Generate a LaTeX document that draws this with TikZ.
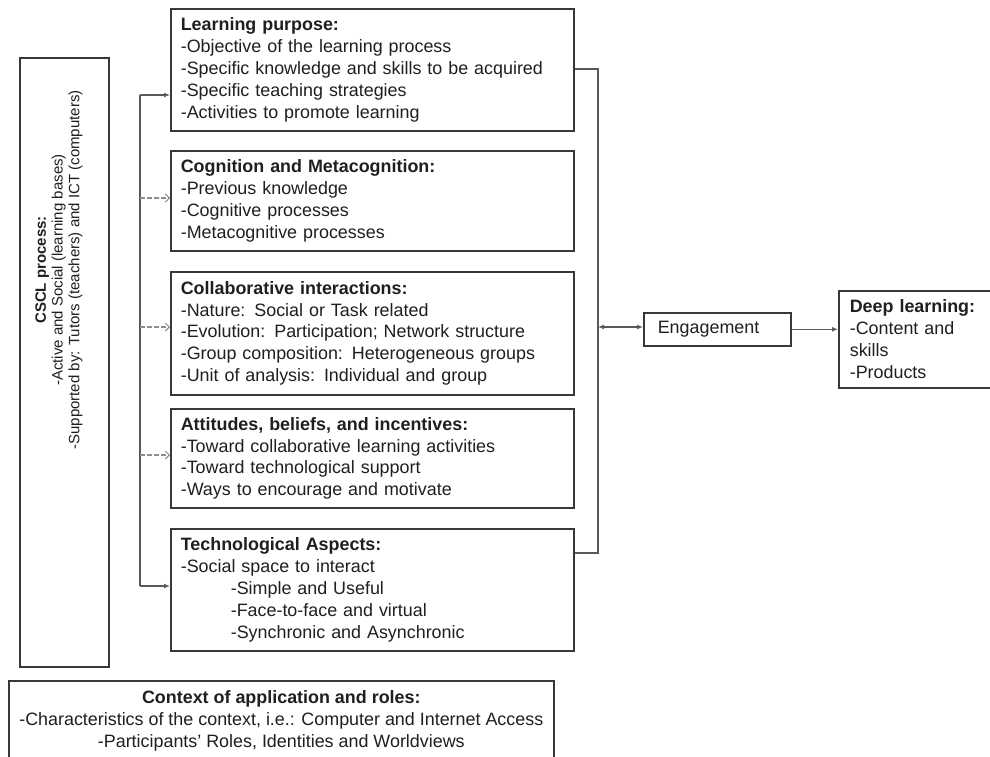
\documentclass[tikz,border=0pt]{standalone}
\usepackage{fontspec}
\setmainfont{Liberation Sans}
\usetikzlibrary{arrows.meta}
\begin{document}
\begin{tikzpicture}[x=1pt,y=-1pt,
  box/.style={draw=black!78, line width=1.6pt, fill=white, inner xsep=10pt, inner ysep=3pt,
    align=left, text width=383pt, minimum height=#1, anchor=north west,
    font=\fontsize{17.9}{21.8}\selectfont, text=black!88},
  plainbox/.style={draw=black!78, line width=1.6pt, fill=white, anchor=north west, text=black!88,
    font=\fontsize{17.9}{21.8}\selectfont},
  conn/.style={draw=black!65, line width=1.3pt},
  fillarr/.style={conn, -{Latex[length=6pt,width=5pt]}},
  openarr/.style={draw=black!45, line width=1.1pt, dash pattern=on 5pt off 2pt, -{Straight Barb[length=4pt,width=8pt,line width=1pt]}},
  dblarr/.style={conn, {Latex[length=6pt,width=5pt]}-{Latex[length=6pt,width=5pt]}}
]
\useasboundingbox (0,0) rectangle (990,757);

% left CSCL box
\node[plainbox, minimum width=89pt, minimum height=609pt] (cscl) at (19,57) {};
\node[rotate=90, align=center, text=black!88, font=\fontsize{15}{16.8}\selectfont] (cscltext) at (59,270)
  {\textbf{CSCL process:}\\-Active and Social (learning bases)\\-Supported by: Tutors (teachers) and ICT (computers)};

% middle boxes
\node[box=122pt] (b1) at (170,8) {\textbf{Learning purpose:}\\-Objective of the learning process\\-Specific knowledge and skills to be acquired\\-Specific teaching strategies\\-Activities to promote learning};
\node[box=100pt] (b2) at (170,150) {\textbf{Cognition and Metacognition:}\\-Previous knowledge\\-Cognitive processes\\-Metacognitive processes};
\node[box=123pt] (b3) at (170,271) {\textbf{Collaborative interactions:}\\-Nature: Social or Task related\\-Evolution: Participation; Network structure\\-Group composition: Heterogeneous groups\\-Unit of analysis: Individual and group};
\node[box=99pt] (b4) at (170,408) {\textbf{Attitudes, beliefs, and incentives:}\\-Toward collaborative learning activities\\-Toward technological support\\-Ways to encourage and motivate};
\node[box=122pt] (b5) at (170,528) {\textbf{Technological Aspects:}\\-Social space to interact\\\hspace*{50pt}-Simple and Useful\\\hspace*{50pt}-Face-to-face and virtual\\\hspace*{50pt}-Synchronic and Asynchronic};

% right side
\node[plainbox, minimum width=147pt, minimum height=33pt, inner xsep=14pt, text width=119pt, align=left] (eng) at (643,312) {Engagement};
\node[plainbox, minimum width=160pt, minimum height=97pt, inner xsep=11pt, text width=138pt, align=left] (dl) at (838,290)
  {\textbf{Deep learning:}\\-Content and\\skills\\-Products};

% bottom context box
\node[plainbox, minimum width=545pt, minimum height=80pt, align=center, inner ysep=2pt] (ctx) at (8,680)
  {\textbf{Context of application and roles:}\\-Characteristics of the context, i.e.: Computer and Internet Access\\-Participants' Roles, Identities and Worldviews};

% left bracket
\coordinate (la1) at (140,95);
\coordinate (la2) at (140,198);
\coordinate (la3) at (140,327);
\coordinate (la4) at (140,455);
\coordinate (la5) at (140,586);
\draw[conn] (la1) -- (la5);
\draw[fillarr] (la1) -- (la1 -| b1.west);
\draw[openarr] (la2) -- (la2 -| b2.west);
\draw[openarr] (la3) -- (la3 -| b3.west);
\draw[openarr] (la4) -- (la4 -| b4.west);
\draw[fillarr] (la5) -- (la5 -| b5.west);

% right bracket
\coordinate (rt) at (598,69);
\coordinate (rb) at (598,553);
\coordinate (rm) at (598,327);
\draw[conn] (rt -| b1.east) -- (rt) -- (rb) -- (rb -| b5.east);
\draw[dblarr] (rm) -- (rm -| eng.west);
\draw[fillarr] (eng.east) -- (eng.east -| dl.west);
\end{tikzpicture}
\end{document}
